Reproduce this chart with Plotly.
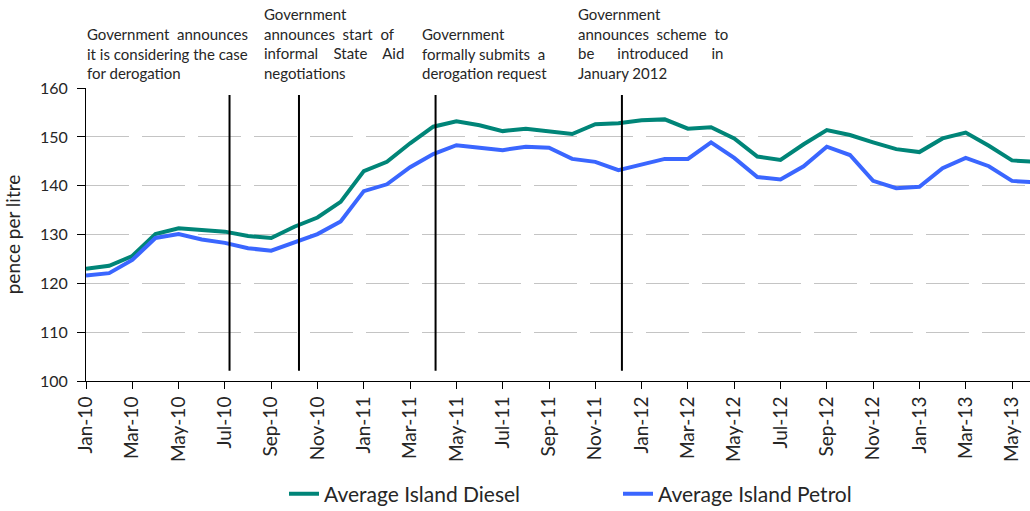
import plotly.graph_objects as go

# Monthly average pump prices, Jan-10 to Jun-13 (pence per litre)
months = ["Jan-10", "Feb-10", "Mar-10", "Apr-10", "May-10", "Jun-10", "Jul-10", "Aug-10",
          "Sep-10", "Oct-10", "Nov-10", "Dec-10", "Jan-11", "Feb-11", "Mar-11", "Apr-11",
          "May-11", "Jun-11", "Jul-11", "Aug-11", "Sep-11", "Oct-11", "Nov-11", "Dec-11",
          "Jan-12", "Feb-12", "Mar-12", "Apr-12", "May-12", "Jun-12", "Jul-12", "Aug-12",
          "Sep-12", "Oct-12", "Nov-12", "Dec-12", "Jan-13", "Feb-13", "Mar-13", "Apr-13",
          "May-13", "Jun-13"]

diesel = [123.0, 123.6, 125.6, 130.1, 131.3, 130.9, 130.6, 129.7, 129.3, 131.6, 133.5, 136.7,
          143.0, 144.9, 148.7, 152.1, 153.2, 152.4, 151.2, 151.7, 151.2, 150.6, 152.6, 152.8,
          153.4, 153.6, 151.7, 152.0, 149.7, 146.0, 145.3, 148.5, 151.4, 150.4, 148.9, 147.5,
          146.9, 149.7, 150.9, 148.2, 145.2, 144.9]

petrol = [121.6, 122.1, 124.8, 129.3, 130.1, 129.0, 128.3, 127.2, 126.7, 128.4, 130.1, 132.7,
          138.9, 140.3, 143.8, 146.5, 148.3, 147.8, 147.3, 148.0, 147.8, 145.5, 144.9, 143.2,
          144.4, 145.5, 145.5, 148.9, 145.7, 141.8, 141.3, 144.0, 148.0, 146.3, 141.0, 139.5,
          139.8, 143.6, 145.7, 144.0, 141.0, 140.7]

# Policy milestones, as month offsets from Jan-10
event_months = [6.2, 9.2, 15.1, 23.15]

# Milestone captions; non-breaking spaces widen the gaps to give justified lines
NB = "\u00a0"
event_texts = [
    f"Government{NB*2}announces<br>it is considering the case<br>for derogation",
    f"Government<br>announces{NB*2}start{NB*2}of<br>informal{NB*4}State{NB*4}Aid<br>negotiations",
    f"Government<br>formally submits{NB*2}a<br>derogation request",
    f"Government<br>announces{NB*2}scheme{NB*2}to<br>be{NB*6}introduced{NB*6}in<br>January 2012",
]
event_text_left_px = [85, 262, 420, 576]

y_ticks = [100, 110, 120, 130, 140, 150, 160]

W, H = 1030, 511
ML, MR, MT, MB = 86, 0, 88, 130
plot_w = W - ML - MR
plot_h = H - MT - MB

FONT = "Lato, Carlito, Calibri, sans-serif"
TEXT = "#262626"

x_idx = list(range(len(months)))

fig = go.Figure()
fig.add_trace(go.Scatter(x=x_idx, y=diesel, mode="lines", name="Average Island Diesel",
                         line=dict(color="#008578", width=4)))
fig.add_trace(go.Scatter(x=x_idx, y=petrol, mode="lines", name="Average Island Petrol",
                         line=dict(color="#3A66FF", width=4)))

# Vertical markers for each milestone
for m in event_months:
    fig.add_shape(type="line", xref="x", yref="y", x0=m, x1=m, y0=102.1, y1=158.6,
                  line=dict(color="black", width=2))

# Milestone descriptions above the plot
for txt, px in zip(event_texts, event_text_left_px):
    fig.add_annotation(text=txt, xref="paper", yref="paper",
                       x=(px - ML) / plot_w, y=(H - MB - 84) / plot_h,
                       xanchor="left", yanchor="bottom", align="left", showarrow=False,
                       font=dict(family=FONT, size=15, color=TEXT))

fig.update_layout(
    width=W, height=H,
    margin=dict(l=ML, r=MR, t=MT, b=MB, autoexpand=False),
    paper_bgcolor="white", plot_bgcolor="white",
    font=dict(family=FONT, color=TEXT),
    showlegend=True,
    legend=dict(orientation="h", x=(284 - ML) / plot_w, xanchor="left",
                y=(H - MB - 494) / plot_h, yanchor="middle",
                font=dict(family=FONT, size=21, color=TEXT),
                entrywidth=289, entrywidthmode="pixels",
                bgcolor="rgba(0,0,0,0)"),
    xaxis=dict(
        range=[0, plot_w / 23.15],
        tickmode="array", tickvals=x_idx[::2], ticktext=months[::2],
        tickangle=-90, tickfont=dict(family=FONT, size=19, color=TEXT),
        showgrid=False, zeroline=False,
        showline=True, linecolor="black", linewidth=1,
        ticks="outside", ticklen=7, tickcolor="black",
    ),
    yaxis=dict(
        # top of range nudged just past 160 so the 160 gridline is still drawn
        range=[100, 160.03], tickvals=y_ticks,
        tickfont=dict(family=FONT, size=16, color=TEXT),
        ticklabelstandoff=6,
        showgrid=True, gridcolor="#C4C4C4", gridwidth=1, griddash="43px,13px",
        zeroline=False,
        showline=True, linecolor="black", linewidth=1,
        ticks="outside", ticklen=8, tickcolor="black",
        title=dict(text="pence per litre", font=dict(family=FONT, size=19, color=TEXT),
                   standoff=14),
    ),
)

fig.write_html("out.html")
